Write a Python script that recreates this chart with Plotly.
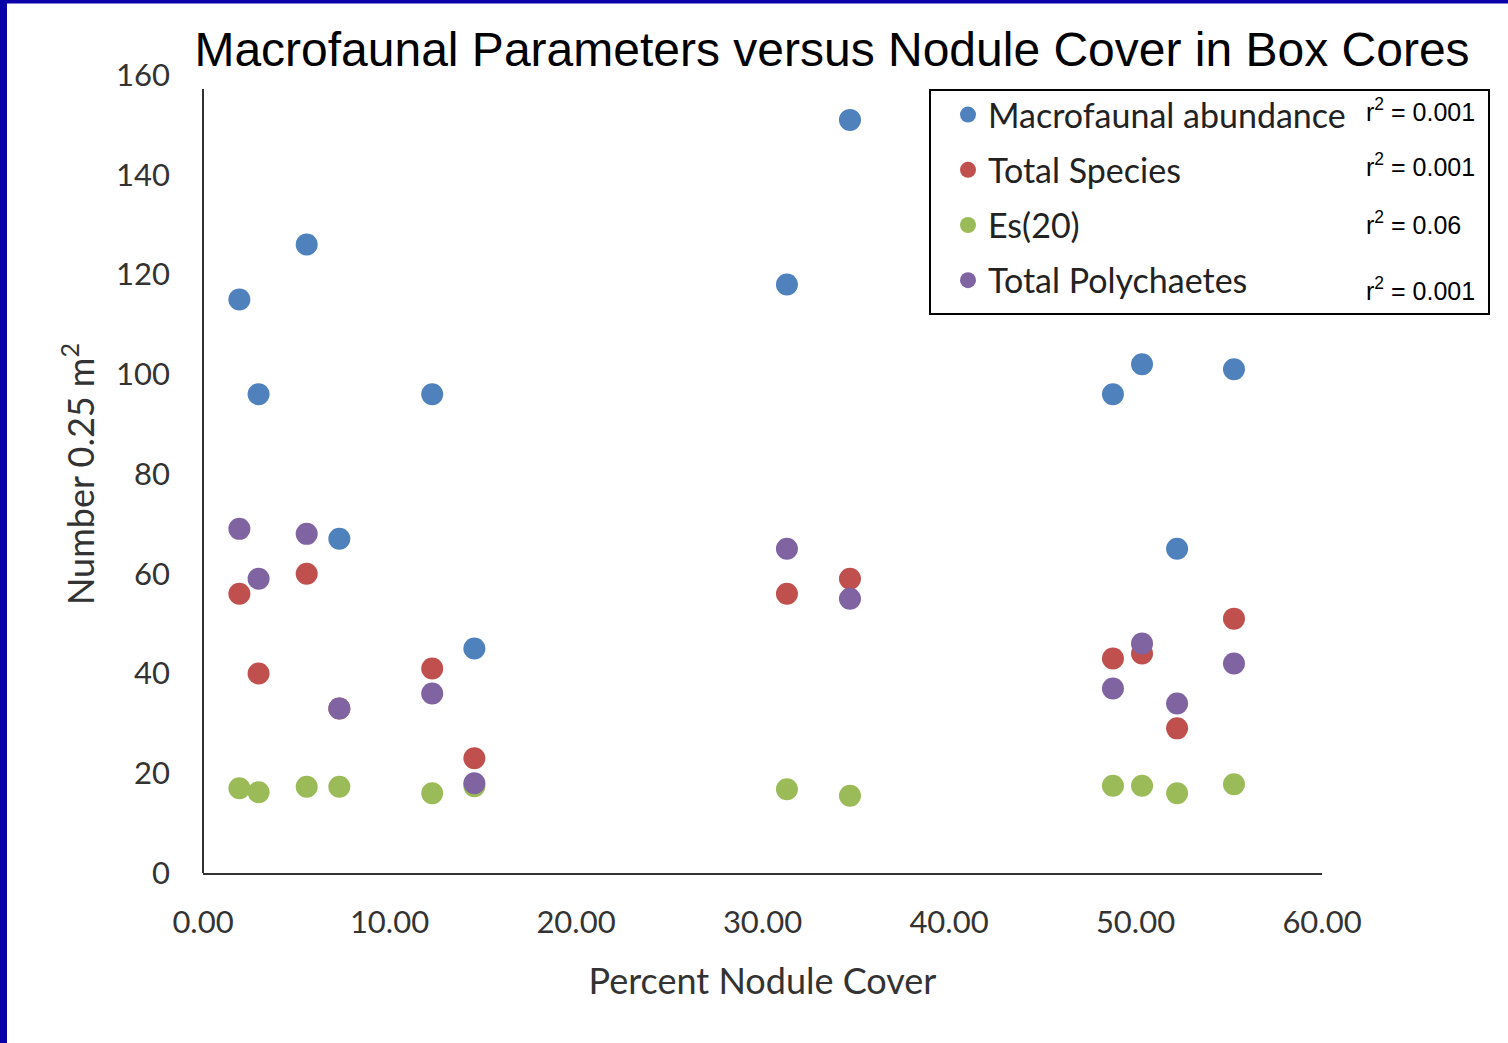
import plotly.graph_objects as go

# ---- data ----
nodule_cover = [1.95, 2.98, 5.56, 7.31, 12.29, 14.55, 31.31, 34.69, 48.79, 50.35, 52.23, 55.28]
macrofaunal_abundance = [115, 96, 126, 67, 96, 45, 118, 151, 96, 102, 65, 101]
total_species = [56, 40, 60, 33, 41, 23, 56, 59, 43, 44, 29, 51]
es20 = [17.0, 16.2, 17.3, 17.3, 16.0, 17.4, 16.8, 15.5, 17.5, 17.5, 16.0, 17.8]
total_polychaetes = [69, 59, 68, 33, 36, 18, 65, 55, 37, 46, 34, 42]

series_names = ["Macrofaunal abundance", "Total Species", "Es(20)", "Total Polychaetes"]
series_values = [macrofaunal_abundance, total_species, es20, total_polychaetes]
series_colors = ["#4F81BD", "#C0504D", "#9BBB59", "#8064A2"]
r2_labels = ["0.001", "0.001", "0.06", "0.001"]

x_ticks = [0, 10, 20, 30, 40, 50, 60]
y_ticks = [0, 20, 40, 60, 80, 100, 120, 140, 160]

W, H = 1508, 1043
ML, MR, MT, MB = 203, 186, 75, 170
PW, PH = W - ML - MR, H - MT - MB


def px_x(p):
    return (p - ML) / PW


def px_y(p):
    return (H - MB - p) / PH


FONT = "Lato, 'Open Sans', sans-serif"
TICK_FONT = dict(family=FONT, size=31, color="#333333")
AXTITLE_FONT = dict(family=FONT, size=36, color="#333333")

fig = go.Figure()
for i, (name, vals, col) in enumerate(zip(series_names, series_values, series_colors)):
    fig.add_trace(go.Scatter(
        x=nodule_cover, y=vals, mode="markers", name=name,
        legendgroup=f"g{i}",
        marker=dict(color=col, size=22, line=dict(width=0)),
    ))

fig.update_layout(
    width=W, height=H,
    margin=dict(l=ML, r=MR, t=MT, b=MB, pad=0),
    paper_bgcolor="white", plot_bgcolor="white",
    title=dict(
        text="Macrofaunal Parameters versus Nodule Cover in Box Cores",
        font=dict(family="'Liberation Sans', Arial, sans-serif", size=48, color="#000000"),
        xref="container", yref="container",
        x=832 / W, xanchor="center", y=1 - 49 / H, yanchor="middle",
    ),
    xaxis=dict(
        range=[0, 60], tickvals=x_ticks, tickformat=".2f",
        showgrid=False, zeroline=False,
        showline=True, linecolor="#333333", linewidth=2,
        ticks="", ticklabelstandoff=21,
        tickfont=TICK_FONT,
        title=dict(text="Percent Nodule Cover", font=AXTITLE_FONT, standoff=30),
    ),
    yaxis=dict(
        range=[0, 160], tickvals=y_ticks,
        showgrid=False, zeroline=False, showline=False,
        ticks="", ticklabelstandoff=32,
        tickfont=TICK_FONT,
        title=dict(text="Number 0.25 m<sup>2</sup>", font=AXTITLE_FONT, standoff=10),
    ),
    legend=dict(
        x=px_x(948), xanchor="left", y=px_y(86), yanchor="top",
        bgcolor="rgba(0,0,0,0)", borderwidth=0,
        font=dict(family=FONT, size=34, color="#222222"),
        tracegroupgap=8, itemsizing="trace",
    ),
    showlegend=True,
)

shapes = [
    # y axis line (stops a little below the top tick, as in the reference)
    dict(type="line", xref="paper", yref="paper", x0=0, x1=0, y0=0, y1=px_y(89),
         line=dict(color="#333333", width=2)),
    # legend frame
    dict(type="rect", xref="paper", yref="paper", x0=px_x(930), x1=px_x(1489),
         y0=px_y(314), y1=px_y(90), line=dict(color="#000000", width=2)),
    # blue slide frame, left and top
    dict(type="rect", xref="paper", yref="paper", x0=px_x(0), x1=px_x(7),
         y0=px_y(H), y1=px_y(0), fillcolor="#0A00A8", line=dict(width=0)),
    dict(type="rect", xref="paper", yref="paper", x0=px_x(0), x1=px_x(W),
         y0=px_y(3.5), y1=px_y(0), fillcolor="#0A00A8", line=dict(width=0)),
]
fig.update_layout(shapes=shapes)

r2_y = [110, 165, 223, 289]
for lab, yy in zip(r2_labels, r2_y):
    fig.add_annotation(
        text=f"r<sup>2</sup> = {lab}", xref="paper", yref="paper",
        x=px_x(1364), xanchor="left", y=px_y(yy), yanchor="middle",
        showarrow=False,
        font=dict(family="'Liberation Sans', Arial, sans-serif", size=25, color="#000000"),
    )

fig.write_html(
    "out.html",
    config={"displayModeBar": False},
    post_script="document.body.style.margin='0px';document.body.style.overflow='hidden';",
)
